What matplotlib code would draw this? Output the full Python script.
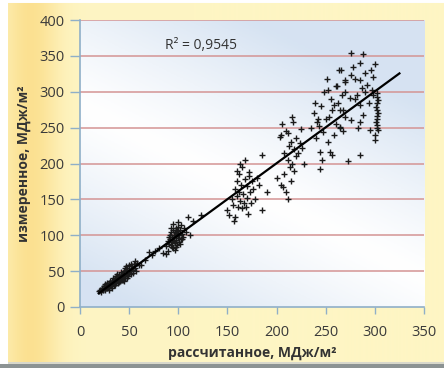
import numpy as np
import matplotlib
matplotlib.use('Agg')
import matplotlib.pyplot as plt

plt.rcParams['font.family'] = ['Open Sans', 'DejaVu Sans']

# low cluster (20..60)
xa = [19,20,21,22,22,23,24,24,25,26,26,27,28,28,29,30,30,31,32,32,33,33,34,35,35,36,36,37,38,38,
      39,40,40,41,41,42,43,43,44,44,45,45,46,47,47,48,48,49,50,50,51,52,52,53,54,55,56,57,58,60,
      27,31,34,37,40,42,44,46,48,50,52,54,56,45,47,38,36,33,29,25]
ya = [22,24,21,25,27,24,26,29,23,27,30,26,31,28,33,27,32,30,34,29,36,31,33,38,30,35,40,34,37,41,
      33,39,44,36,42,40,45,38,47,42,50,44,41,48,52,45,55,43,47,58,50,53,46,57,52,60,55,50,62,58,
      33,36,40,43,35,49,38,54,40,52,60,48,64,36,57,46,31,27,24,32]
# points along the line between clusters
xl = [62,66,70,73,76,80,84,87,90,115,123]
yl = [58,65,76,72,78,82,75,74,78,120,128]
# cluster around 95
xb = [88,90,91,92,92,93,93,94,94,95,95,95,96,96,97,97,98,98,98,99,99,100,100,101,101,102,103,104,105,106,
      108,110,112,95,97,100,91,94,96,99,102,104,93,98,100,103]
yb = [85,92,88,95,100,86,104,90,98,93,108,82,97,101,89,105,94,110,99,87,103,96,112,91,100,107,95,102,98,110,
      104,125,100,115,80,118,97,84,92,106,88,95,110,83,102,114]
# cluster around 165
xc = [150,152,155,156,158,158,160,160,161,162,162,163,164,165,165,166,167,168,168,170,170,171,172,173,174,
      175,176,178,180,182,185,157,163,169,160,172]
yc = [135,128,150,142,165,125,155,175,140,160,185,148,170,138,195,158,145,178,205,152,168,130,188,160,145,
      175,165,150,180,170,212,120,200,140,190,182]
# cluster around 215
xd = [200,203,204,205,207,208,208,210,210,212,212,213,214,215,215,216,216,217,218,218,220,220,222,224,225,
      226,228,190,185,212,206]
yd = [180,237,240,170,167,186,215,245,160,242,205,225,195,230,175,265,200,258,190,220,235,210,215,228,248,
      221,200,160,135,150,255]
# cluster around 255
xe = [235,238,239,240,241,243,244,244,245,247,248,250,251,252,253,254,255,256,258,260,260,262,264,265,265,
      267,268,270,270,252,246,242]
ye = [250,270,284,235,258,252,216,193,280,244,300,262,318,303,265,216,290,274,240,308,255,285,331,251,275,
      295,245,317,265,230,205,262]
# cluster around 285
xf = [276,288,285,300,266,290,296,276,280,270,261,285,292,298,297,298,270,275,282,258,268,285,288,276,285,
      265,283,295,300,256,285,273,280,290,278,294,300,287]
yf = [354,353,340,339,331,326,331,323,318,313,308,316,310,320,302,295,300,291,296,282,275,281,268,261,258,
      249,249,246,233,212,212,203,290,300,335,285,240,305]
# vertical column near 302
xv = [302,302,303,302,301,302,303,302,302,301,302,302,303]
yv = [298,293,288,284,279,275,270,266,262,258,254,250,247]

r2_text = 'R² = 0,9545'
xticks = [0, 50, 100, 150, 200, 250, 300, 350]
yticks = [0, 50, 100, 150, 200, 250, 300, 350, 400]

x = np.array(xa + xl + xb + xc + xd + xe + xf + xv, dtype=float)
y = np.array(ya + yl + yb + yc + yd + ye + yf + yv, dtype=float)

W, H = 444, 368
fig = plt.figure(figsize=(W / 100, H / 100), dpi=100)

# figure background: pale yellow with orange tint on the left
bg = fig.add_axes([0, 0, 1, 1], zorder=-10)
cols = np.arange(W)
tint = np.exp(-((cols - 30) / 28.0) ** 2)
img = np.ones((H, W, 3))
img[:, :, 0] = 254 / 255 - 0.01 * tint
img[:, :, 1] = 245 / 255 - 0.08 * tint
img[:, :, 2] = 196 / 255 - 0.20 * tint
img[:3, :, :] = 1.0
img[:, :8, :] = 1.0
img[364:, :, :] = np.array([0.55, 0.58, 0.58])
img[362:364, 8:, :] = np.array([0.85, 0.85, 0.80])
bg.imshow(img, aspect='auto', extent=[0, 1, 0, 1])
bg.set_axis_off()

ax = fig.add_axes([80 / W, 1 - 307 / H, 344 / W, 287 / H])
ax.set_xlim(0, 350)
ax.set_ylim(0, 400)

# plot area gradient
gx, gy = np.meshgrid(np.linspace(0, 1, 100), np.linspace(1, 0, 100))
u = gy + 0.6 * gx
t = np.clip(np.abs(u - 0.7) / 0.6, 0, 1) ** 1.2
blue = np.array([0.84, 0.89, 0.95])
grad = (1 - t)[..., None] * np.ones(3) + t[..., None] * blue
ax.imshow(grad, aspect='auto', extent=[0, 350, 0, 400], zorder=0)

for v in yticks[1:]:
    ax.axhline(v, color='#D49494', lw=1.1, zorder=1)

ax.scatter(x, y, marker='+', s=24, c='#1a1a1a', linewidths=1.0, zorder=3)

k, b = np.polyfit(x, y, 1)
xs = np.array([x.min(), 325])
ax.plot(xs, k * xs + b, color='black', lw=1.6, zorder=4)

ax.text(86, 365, r2_text, fontsize=10, color='#333333', va='center', zorder=5)

ax.set_xticks(xticks)
ax.set_yticks(yticks)
ax.tick_params(axis='y', length=7, width=1, color='#8FAFC8', pad=4, labelsize=10.5, labelcolor='#3a3a3a')
ax.tick_params(axis='x', length=5, width=1, color='#8FAFC8', pad=8, labelsize=10.5, labelcolor='#3a3a3a')
for s in ['top', 'right']:
    ax.spines[s].set_visible(False)
for s in ['left', 'bottom']:
    ax.spines[s].set_color('#8FAFC8')
    ax.spines[s].set_linewidth(1.2)

ax.set_xlabel('рассчитанное, МДж/м²', fontsize=10, fontweight='bold', color='#333333', labelpad=4)
ax.set_ylabel('измеренное, МДж/м²', fontsize=10, fontweight='bold', color='#333333', labelpad=6)

fig.savefig('out.png', dpi=100)
